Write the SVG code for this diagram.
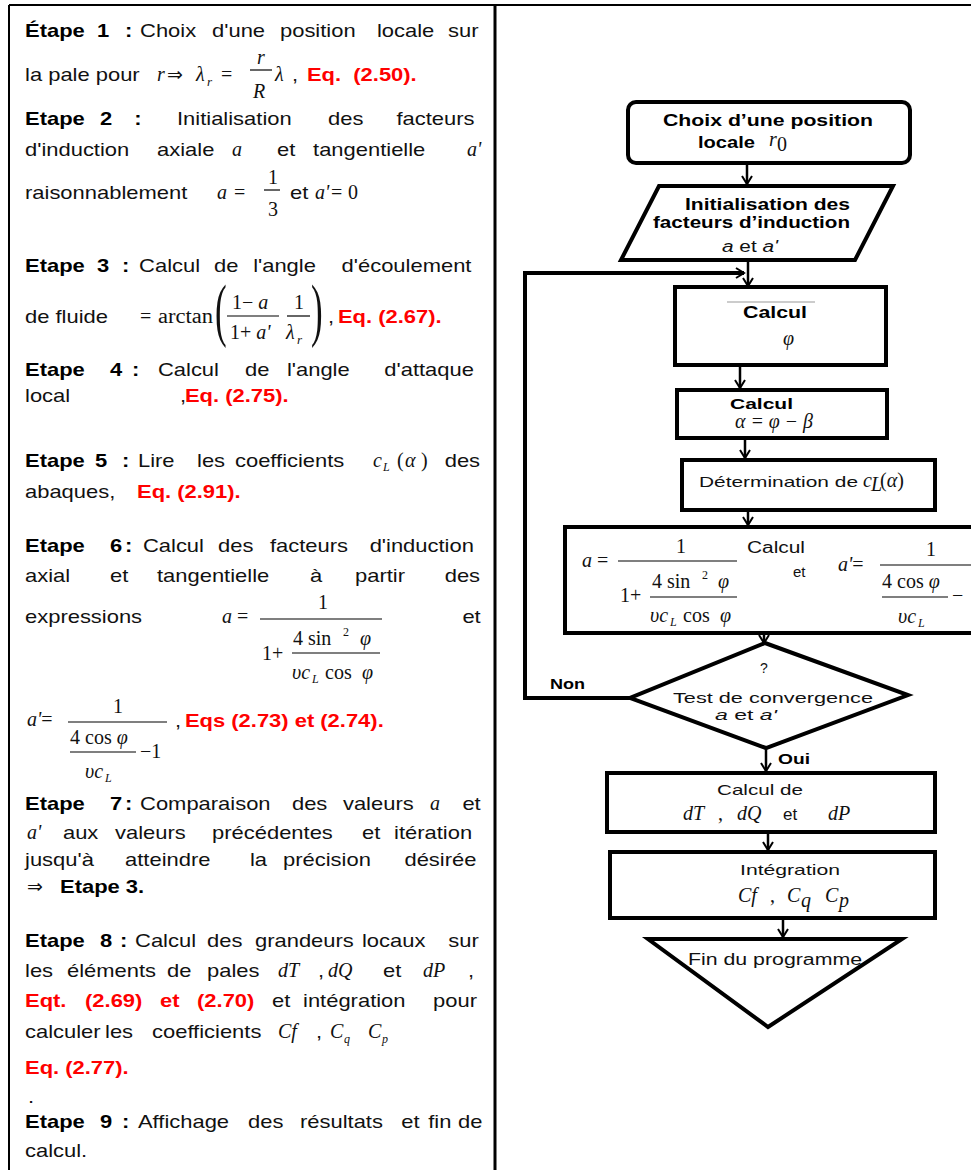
<svg xmlns="http://www.w3.org/2000/svg" width="971" height="1170" viewBox="0 0 971 1170">
<style>
.t{font-family:"Liberation Sans",Arial,sans-serif;font-size:18px;fill:#111}
.b{font-weight:bold;fill:#000}
.r{font-weight:bold;fill:#f00}
.m{font-family:"Liberation Serif","Times New Roman",serif;font-size:20px;font-style:italic;fill:#111}
.u{font-style:normal}
.fl{font-family:"Liberation Sans",Arial,sans-serif;fill:#111}
.fb{font-weight:bold;fill:#000}
.box{fill:#fff;stroke:#000;stroke-width:4}
.ln{fill:none;stroke:#000;stroke-width:1.2}
.cn{fill:none;stroke:#000;stroke-width:2.5}
.frame{fill:none;stroke:#000}
</style>
<defs>
<marker id="ah" markerUnits="userSpaceOnUse" markerWidth="14" markerHeight="14" viewBox="-10 -7 12 14" refX="0" refY="0" orient="auto" overflow="visible">
<path d="M-8,-5 L0,0 L-8,5" fill="none" stroke="#000" stroke-width="2"/>
</marker>
</defs>
<rect x="0" y="0" width="971" height="1170" fill="#fff"/>
<g id="frame">
<line class="frame" x1="9" y1="5" x2="971" y2="5" stroke-width="2"/>
<line class="frame" x1="9" y1="5" x2="9" y2="1170" stroke-width="2"/>
<line class="frame" x1="495" y1="5" x2="495" y2="1170" stroke-width="3"/>
</g>

<g id="steps" class="t" transform="scale(1.22 1)">
<text y="37"><tspan class="b" x="20.5">Étape</tspan><tspan class="b" x="79.5">1</tspan><tspan class="b" x="102.5">:</tspan><tspan x="114.8">Choix</tspan><tspan x="173.8">d'une</tspan><tspan x="229.5">position</tspan><tspan x="309">locale</tspan><tspan x="367.2">sur</tspan></text>
<text y="81"><tspan x="20.5">la pale pour</tspan><tspan x="239.3">,</tspan><tspan class="r" x="251.6">Eq.&#160; (2.50).</tspan></text>
<text y="125"><tspan class="b" x="20.5">Etape</tspan><tspan class="b" x="82">2</tspan><tspan class="b" x="110">:</tspan><tspan x="145.1">Initialisation</tspan><tspan x="268.9">des</tspan><tspan x="325">facteurs</tspan></text>
<text y="156"><tspan x="20.5">d'induction</tspan><tspan x="128.7">axiale</tspan><tspan x="227">et</tspan><tspan x="256.6">tangentielle</tspan></text>
<text y="199"><tspan x="20.5">raisonnablement</tspan><tspan x="237.7">et</tspan></text>
<text y="272"><tspan class="b" x="20.5">Etape</tspan><tspan class="b" x="79.5">3</tspan><tspan class="b" x="100">:</tspan><tspan x="114">Calcul</tspan><tspan x="175.5">de</tspan><tspan x="207.5">l'angle</tspan><tspan x="280">d'écoulement</tspan></text>
<text y="323"><tspan x="20.5">de fluide</tspan><tspan x="268.9">,</tspan><tspan class="r" x="277">Eq. (2.67).</tspan></text>
<text y="376"><tspan class="b" x="20.5">Etape</tspan><tspan class="b" x="90.2">4</tspan><tspan class="b" x="108.2">:</tspan><tspan x="129.5">Calcul</tspan><tspan x="200.8">de</tspan><tspan x="235.2">l'angle</tspan><tspan x="315">d'attaque</tspan></text>
<text y="402"><tspan x="20.5">local</tspan><tspan x="147.5">,</tspan><tspan class="r" x="151.6">Eq. (2.75).</tspan></text>
<text y="467"><tspan class="b" x="20.5">Etape</tspan><tspan class="b" x="77.9">5</tspan><tspan class="b" x="100">:</tspan><tspan x="113.1">Lire</tspan><tspan x="161.5">les</tspan><tspan x="192.6">coefficients</tspan><tspan x="364.5">des</tspan></text>
<text y="498"><tspan x="20.5">abaques,</tspan><tspan class="r" x="112.3">Eq. (2.91).</tspan></text>
<text y="552"><tspan class="b" x="20.5">Etape</tspan><tspan class="b" x="90.2">6</tspan><tspan class="b" x="102.5">:</tspan><tspan x="117.2">Calcul</tspan><tspan x="178.7">des</tspan><tspan x="221.3">facteurs</tspan><tspan x="303">d'induction</tspan></text>
<text y="582"><tspan x="20.5">axial</tspan><tspan x="90.2">et</tspan><tspan x="128.7">tangentielle</tspan><tspan x="254.1">à</tspan><tspan x="291">partir</tspan><tspan x="364.5">des</tspan></text>
<text y="623"><tspan x="20.5">expressions</tspan><tspan x="379">et</tspan></text>
<text y="727"><tspan x="143.4">,</tspan><tspan class="r" x="151.6">Eqs (2.73) et (2.74).</tspan></text>
<text y="810"><tspan class="b" x="20.5">Etape</tspan><tspan class="b" x="90.2">7</tspan><tspan class="b" x="102.5">:</tspan><tspan x="114.8">Comparaison</tspan><tspan x="239.3">des</tspan><tspan x="281.1">valeurs</tspan><tspan x="379">et</tspan></text>
<text y="839"><tspan x="51.6">aux</tspan><tspan x="94.3">valeurs</tspan><tspan x="173.8">précédentes</tspan><tspan x="296.7">et</tspan><tspan x="323">itération</tspan></text>
<text y="866"><tspan x="20.5">jusqu'à</tspan><tspan x="102.5">atteindre</tspan><tspan x="204.9">la</tspan><tspan x="232">précision</tspan><tspan x="331.5">désirée</tspan></text>
<text y="893"><tspan class="b" x="49.2">Etape 3.</tspan></text>
<text y="947"><tspan class="b" x="20.5">Etape</tspan><tspan class="b" x="82">8</tspan><tspan class="b" x="98.4">:</tspan><tspan x="110.7">Calcul</tspan><tspan x="169.7">des</tspan><tspan x="209">grandeurs</tspan><tspan x="296.7">locaux</tspan><tspan x="367.5">sur</tspan></text>
<text y="977"><tspan x="20.5">les</tspan><tspan x="54.9">éléments</tspan><tspan x="136.9">de</tspan><tspan x="169.7">pales</tspan><tspan x="260.7">,</tspan><tspan x="313.9">et</tspan><tspan x="383.6">,</tspan></text>
<text y="1007"><tspan class="r" x="20.5">Eqt.</tspan><tspan class="r" x="69.7">(2.69)</tspan><tspan class="r" x="131.1">et</tspan><tspan class="r" x="161.5">(2.70)</tspan><tspan x="223">et</tspan><tspan x="248.4">intégration</tspan><tspan x="355">pour</tspan></text>
<text y="1038"><tspan x="20.5">calculer</tspan><tspan x="86.1">les</tspan><tspan x="124.6">coefficients</tspan><tspan x="259">,</tspan></text>
<text y="1074"><tspan class="r" x="20.5">Eq. (2.77).</tspan></text>
<text y="1103"><tspan x="23">.</tspan></text>
<text y="1128"><tspan class="b" x="20.5">Etape</tspan><tspan class="b" x="82">9</tspan><tspan class="b" x="100">:</tspan><tspan x="113.1">Affichage</tspan><tspan x="203.3">des</tspan><tspan x="245.9">résultats</tspan><tspan x="329">et</tspan><tspan x="351">fin</tspan><tspan x="375.5">de</tspan></text>
<text y="1157"><tspan x="20.5">calcul.</tspan></text>
</g>

<g id="math" class="m">
<text x="157" y="81">r</text>
<text class="u" x="167" y="81" font-size="19">⇒</text>
<text x="196" y="81">λ</text><text x="207" y="86" font-size="13">r</text>
<text class="u" x="221" y="81">=</text>
<text x="257" y="64">r</text>
<line class="ln" x1="250" y1="70" x2="272" y2="70"/>
<text x="253" y="98">R</text>
<text x="275" y="81">λ</text>
<text x="232" y="156">a</text>
<text x="467" y="156">a'</text>
<text x="217" y="199">a</text>
<text class="u" x="234" y="199">=</text>
<text class="u" x="268" y="184">1</text>
<line class="ln" x1="264" y1="190" x2="280" y2="190"/>
<text class="u" x="268" y="216">3</text>
<text x="315" y="199">a'</text>
<text class="u" x="331" y="199">=</text>
<text class="u" x="348" y="199">0</text>
<text class="u" x="140" y="323">=</text>
<text class="u" x="158" y="323" textLength="55" lengthAdjust="spacingAndGlyphs">arctan</text>
<text class="u" transform="translate(215,333) scale(0.5 1)" font-size="70">(</text>
<text class="u" x="232" y="309">1− <tspan font-style="italic">a</tspan></text>
<line class="ln" x1="227" y1="316" x2="279" y2="316"/>
<text class="u" x="230" y="339">1+ <tspan font-style="italic">a'</tspan></text>
<text class="u" x="294" y="309">1</text>
<line class="ln" x1="287" y1="316" x2="310" y2="316"/>
<text x="286" y="339">λ</text><text x="297" y="344" font-size="13">r</text>
<text class="u" transform="translate(311,333) scale(0.5 1)" font-size="70">)</text>
<text x="373" y="467">c</text><text x="383" y="471" font-size="12">L</text><text class="u" x="397" y="467">(</text><text x="405" y="467">α</text><text class="u" x="421" y="467">)</text>
<text x="222" y="623">a</text>
<text class="u" x="237" y="623">=</text>
<line class="ln" x1="260" y1="619" x2="382" y2="619"/>
<text class="u" x="318" y="609">1</text>
<text class="u" x="262" y="660">1+</text>
<line class="ln" x1="292" y1="653" x2="380" y2="653"/>
<text class="u" x="293" y="645">4 sin</text><text class="u" x="343" y="636" font-size="12">2</text><text x="360" y="645">φ</text>
<text x="292" y="679">υc</text><text x="312" y="683" font-size="12">L</text><text class="u" x="325" y="679">cos</text><text x="362" y="679">φ</text>
<text x="27" y="726">a'<tspan class="u">=</tspan></text>
<line class="ln" x1="68" y1="722" x2="167" y2="722"/>
<text class="u" x="113" y="713">1</text>
<text class="u" x="70" y="744">4 cos <tspan font-style="italic">φ</tspan></text>
<line class="ln" x1="70" y1="752" x2="136" y2="752"/>
<text class="u" x="140" y="758">−1</text>
<text x="85" y="778">υc</text><text x="105" y="782" font-size="12">L</text>
<text x="430" y="810">a</text>
<text x="27" y="839">a'</text>
<text class="u" x="27" y="893" font-size="19">⇒</text>
<text x="278" y="977">dT</text>
<text x="328" y="977">dQ</text>
<text x="423" y="977">dP</text>
<text x="278" y="1038">Cf</text>
<text x="330" y="1038">C</text><text x="344" y="1043" font-size="12">q</text>
<text x="368" y="1038">C</text><text x="382" y="1043" font-size="12">p</text>
</g>

<g id="connectors">
<line class="cn" x1="747" y1="163" x2="747" y2="184" marker-end="url(#ah)"/>
<line class="cn" x1="748" y1="260" x2="748" y2="286" marker-end="url(#ah)"/>
<polyline fill="none" stroke="#000" stroke-width="4" points="632,698 525,698 525,273 744,273" marker-end="url(#ah)"/>
<line class="cn" x1="740" y1="365" x2="740" y2="388" marker-end="url(#ah)"/>
<line class="cn" x1="745" y1="438" x2="745" y2="458" marker-end="url(#ah)"/>
<line class="cn" x1="748" y1="510" x2="748" y2="525" marker-end="url(#ah)"/>
<line class="cn" x1="764" y1="633" x2="764" y2="643" marker-end="url(#ah)"/>
<line class="cn" x1="766" y1="748" x2="766" y2="771" marker-end="url(#ah)"/>
<line class="cn" x1="768" y1="832" x2="768" y2="850" marker-end="url(#ah)"/>
<line class="cn" x1="783" y1="918" x2="783" y2="937" marker-end="url(#ah)"/>
<text class="fl fb" x="550" y="689" font-size="15" textLength="35" lengthAdjust="spacingAndGlyphs">Non</text>
<text class="fl fb" x="778" y="764" font-size="15" textLength="32" lengthAdjust="spacingAndGlyphs">Oui</text>
</g>

<g id="n1">
<rect class="box" x="628" y="102" width="282" height="61" rx="8" stroke-width="5"/>
<text class="fl fb" x="663" y="126" font-size="17" textLength="210" lengthAdjust="spacingAndGlyphs">Choix d’une position</text>
<text class="fl fb" x="698" y="148" font-size="17" textLength="57" lengthAdjust="spacingAndGlyphs">locale</text>
<text class="m" x="769" y="146" font-size="18">r</text><text class="m u" x="777" y="151" font-size="11">0</text>
</g>
<g id="n2">
<polygon class="box" points="659,186 893,186 855,260 621,260" stroke-width="3"/>
<text class="fl fb" x="685" y="210" font-size="16" textLength="165" lengthAdjust="spacingAndGlyphs">Initialisation des</text>
<text class="fl fb" x="653" y="228" font-size="16" textLength="197" lengthAdjust="spacingAndGlyphs">facteurs d’induction</text>
<text class="fl" x="722" y="252" font-size="16" textLength="56" lengthAdjust="spacingAndGlyphs"><tspan font-style="italic">a</tspan> et <tspan font-style="italic">a'</tspan></text>
</g>
<g id="n3">
<rect class="box" x="675" y="287" width="211" height="78" stroke-width="3.5"/>
<line x1="727" y1="302" x2="815" y2="302" stroke="#999" stroke-width="1"/>
<text class="fl fb" x="743" y="318" font-size="16" textLength="64" lengthAdjust="spacingAndGlyphs">Calcul</text>
<text class="m" x="783" y="345">φ</text>
</g>
<g id="n4">
<rect class="box" x="677" y="390" width="210" height="48" stroke-width="3.5"/>
<text class="fl fb" x="730" y="409" font-size="15" textLength="63" lengthAdjust="spacingAndGlyphs">Calcul</text>
<text class="m" x="735" y="428" font-size="12" textLength="78" lengthAdjust="spacingAndGlyphs">α = φ − β</text>
</g>
<g id="n5">
<rect class="box" x="682" y="460" width="253" height="50" stroke-width="3.5"/>
<text class="fl" x="699" y="487" font-size="15" textLength="159" lengthAdjust="spacingAndGlyphs">Détermination de</text>
<text class="m" x="863" y="487" font-size="17">c</text><text class="m" x="871" y="491" font-size="10">L</text><text class="m u" x="880" y="487" font-size="17">(<tspan font-style="italic">α</tspan>)</text>
</g>
<g id="n6">
<rect x="565" y="527" width="406" height="106" fill="#fff"/>
<path d="M971,527 H565 V633 H971" fill="none" stroke="#000" stroke-width="4"/>
<g class="m">
<text x="582" y="567">a<tspan class="u"> =</tspan></text>
<line class="ln" x1="618" y1="561" x2="737" y2="561"/>
<text class="u" x="676" y="553">1</text>
<text class="u" x="620" y="602">1+</text>
<line class="ln" x1="650" y1="597" x2="737" y2="597"/>
<text class="u" x="652" y="588">4 sin</text><text class="u" x="702" y="579" font-size="12">2</text><text x="718" y="588">φ</text>
<text x="650" y="622">υc</text><text x="670" y="626" font-size="12">L</text><text class="u" x="683" y="622">cos</text><text x="720" y="622">φ</text>
<text x="838" y="571">a'<tspan class="u">=</tspan></text>
<line class="ln" x1="880" y1="565" x2="971" y2="565"/>
<text class="u" x="926" y="556">1</text>
<text class="u" x="882" y="588">4 cos <tspan font-style="italic">φ</tspan></text>
<line class="ln" x1="882" y1="597" x2="948" y2="597"/>
<text class="u" x="952" y="602">−</text>
<text x="898" y="623">υc</text><text x="918" y="627" font-size="12">L</text>
</g>
<text class="fl" x="747" y="553" font-size="16" fill="#333" textLength="58" lengthAdjust="spacingAndGlyphs">Calcul</text>
<text class="fl" x="793" y="577" font-size="15">et</text>
</g>
<g id="n7">
<polygon class="box" points="765,643 908,695 766,748 630,698" stroke-width="4"/>
<text class="fl" x="760" y="673" font-size="14">?</text>
<text class="fl" x="673" y="703" font-size="15" textLength="200" lengthAdjust="spacingAndGlyphs">Test de convergence</text>
<text class="fl" x="715" y="720" font-size="14" textLength="62" lengthAdjust="spacingAndGlyphs"><tspan font-style="italic">a</tspan> et <tspan font-style="italic">a'</tspan></text>
</g>
<g id="n8">
<rect class="box" x="607" y="773" width="328" height="59" stroke-width="4"/>
<text class="fl" x="717" y="795" font-size="15" textLength="86" lengthAdjust="spacingAndGlyphs">Calcul de</text>
<text class="m" x="683" y="820">dT</text><text class="m u" x="718" y="820">,</text>
<text class="m" x="737" y="820">dQ</text>
<text class="fl" x="783" y="820" font-size="17">et</text>
<text class="m" x="828" y="820">dP</text>
</g>
<g id="n9">
<rect class="box" x="610" y="852" width="325" height="66" stroke-width="4"/>
<text class="fl" x="740" y="875" font-size="15" textLength="100" lengthAdjust="spacingAndGlyphs">Intégration</text>
<text class="m" x="738" y="902">Cf</text><text class="m u" x="770" y="902">,</text>
<text class="m" x="787" y="902">C</text><text class="m" x="801" y="907" font-size="12">q</text>
<text class="m" x="825" y="902">C</text><text class="m" x="839" y="907" font-size="12">p</text>
</g>
<g id="n10">
<polygon class="box" points="648,939 902,939 768,1027" stroke-width="4"/>
<text class="fl" x="688" y="965" font-size="16" textLength="174" lengthAdjust="spacingAndGlyphs">Fin du programme</text>
</g>
</svg>
